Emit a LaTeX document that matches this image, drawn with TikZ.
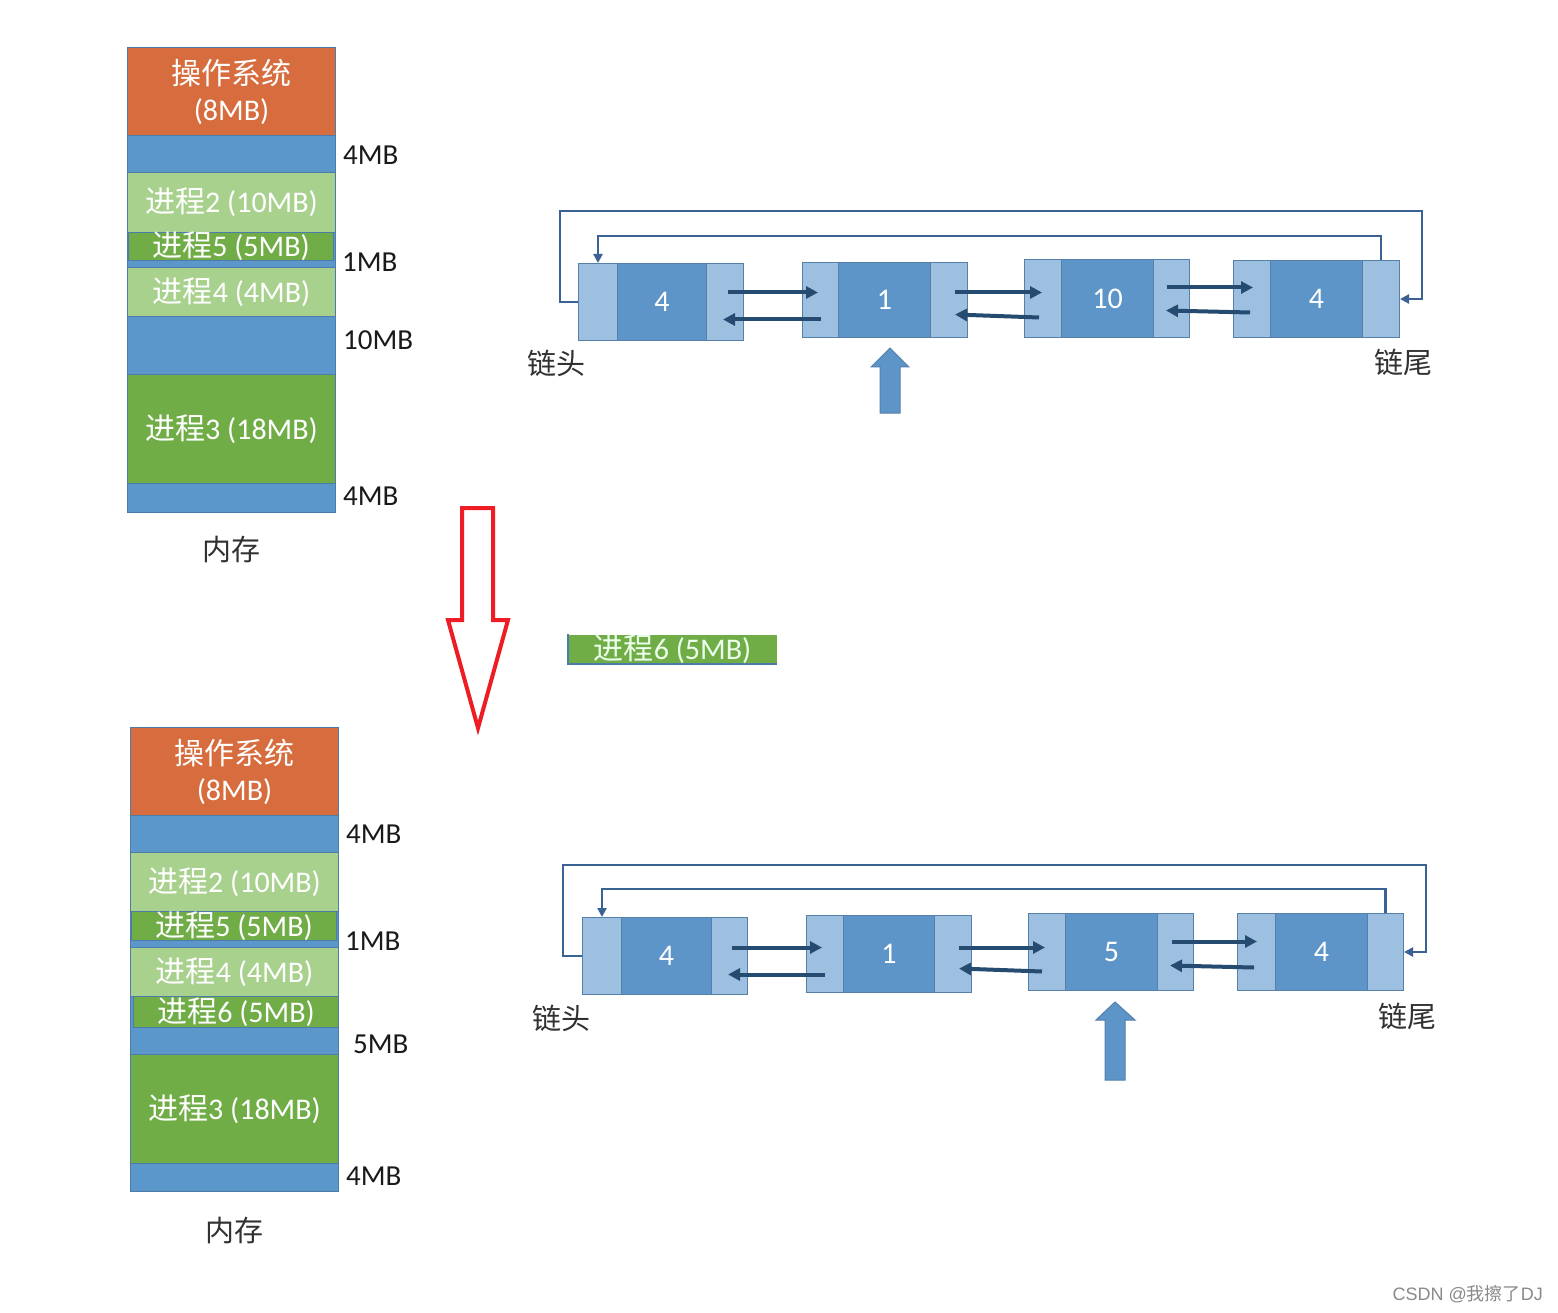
\documentclass[tikz,border=0pt]{standalone}
\usepackage{fontspec}
\setmainfont{Carlito}
\newfontfamily\cjk{Noto Sans CJK SC}
\newfontfamily\wmfont{Liberation Sans}
\usetikzlibrary{arrows.meta,calc}
\definecolor{osorange}{HTML}{D76D3E}
\definecolor{memblue}{HTML}{5B97CB}
\definecolor{lgreen}{HTML}{A9D18E}
\definecolor{dgreen}{HTML}{70AD47}
\definecolor{segline}{HTML}{4C7CAA}
\definecolor{ndark}{HTML}{5D95C8}
\definecolor{nlight}{HTML}{9DC0E1}
\definecolor{nline}{HTML}{5580AA}
\definecolor{arrnavy}{HTML}{254B70}
\definecolor{loopblue}{HTML}{3B6295}
\definecolor{redarrow}{HTML}{EE1D25}
\definecolor{lbltext}{HTML}{1A1A1A}
\definecolor{wmgray}{HTML}{8A8A8A}
\newcommand{\zh}[1]{{\cjk #1}}
\newcommand{\mseg}[6]{%
  \node[seg, fill=#2, minimum width={#5-#3}, minimum height={#6-#4}] (#1) at (#3,#4) {};}
\newcommand{\lnode}[8]{%
  \node[lpart, minimum width={#3-#2}, minimum height={#7-#6}] (#1l) at (#2,#6) {};
  \node[lpart, fill=ndark, minimum width={#4-#3}, minimum height={#7-#6}] (#1m) at (#3,#6) {};
  \node[lpart, minimum width={#5-#4}, minimum height={#7-#6}] (#1r) at (#4,#6) {};
  \node[ntext] (#1t) at (#1m.center) {#8};}
\tikzset{
  seg/.style={draw=segline, line width=1pt, inner sep=0pt, anchor=north west},
  segtext/.style={text=white, font=\fontsize{30}{36}\selectfont, align=center, inner sep=0pt},
  sizelabel/.style={anchor=west, text=lbltext, font=\fontsize{29}{34}\selectfont, inner sep=0pt},
  lpart/.style={draw=nline, fill=nlight, line width=1pt, inner sep=0pt, anchor=north west},
  ntext/.style={text=white, font=\fontsize{30}{36}\selectfont, inner sep=0pt},
  link/.style={draw=arrnavy, line width=4pt, -{Triangle[length=12pt,width=12pt]}},
  loopline/.style={draw=loopblue, line width=2.6pt, -{Triangle[length=9pt,width=9pt]}},
  endlabel/.style={text=lbltext!90, font=\fontsize{29}{34}\selectfont\cjk, inner sep=0pt},
  blockup/.style={fill=ndark, draw=nline, line width=1pt, line join=miter},
}
\begin{document}
\begin{tikzpicture}[x=1pt,y=-1pt]
\useasboundingbox[fill=white] (0,0) rectangle (1558,1313);

% ---------------- top memory ----------------
\mseg{tos}{osorange}{127}{47}{335}{135}
\mseg{tf1}{memblue}{127}{135}{335}{172}
\mseg{tp2}{lgreen}{127}{172}{335}{232}
\mseg{tf2}{memblue}{127}{232}{335}{267}
\mseg{tp5}{dgreen}{128}{232}{333}{260}
\mseg{tp4}{lgreen}{127}{267}{335}{316}
\mseg{tf3}{memblue}{127}{316}{335}{374}
\mseg{tp3}{dgreen}{127}{374}{335}{483}
\mseg{tf4}{memblue}{127}{483}{335}{512}
\node[segtext] (tos-t) at (tos.center) {\zh{操作系统}\\(8MB)};
\node[segtext] (tp2-t) at (tp2.center) {\zh{进程}2 (10MB)};
\node[segtext] (tp5-t) at (tp5.center) {\zh{进程}5 (5MB)};
\node[segtext] (tp4-t) at (tp4.center) {\zh{进程}4 (4MB)};
\node[segtext] (tp3-t) at (tp3.center) {\zh{进程}3 (18MB)};
\node[sizelabel] (tl1) at (343,155) {4MB};
\node[sizelabel] (tl2) at (342,262) {1MB};
\node[sizelabel] (tl3) at (343,340) {10MB};
\node[sizelabel] (tl4) at (343,496) {4MB};
\node[endlabel] (tmem) at (231,550) {内存};

% ---------------- bottom memory ----------------
\mseg{bos}{osorange}{130}{727}{338}{815}
\mseg{bf1}{memblue}{130}{815}{338}{852}
\mseg{bp2}{lgreen}{130}{852}{338}{911}
\mseg{bf2}{memblue}{130}{911}{338}{947}
\mseg{bp5}{dgreen}{131}{911}{336}{940}
\mseg{bp4}{lgreen}{130}{947}{338}{996}
\mseg{bf3}{memblue}{130}{996}{338}{1054}
\mseg{bp6}{dgreen}{133}{996}{338}{1027}
\mseg{bp3}{dgreen}{130}{1054}{338}{1163}
\mseg{bf4}{memblue}{130}{1163}{338}{1191}
\node[segtext] (bos-t) at (bos.center) {\zh{操作系统}\\(8MB)};
\node[segtext] (bp2-t) at (bp2.center) {\zh{进程}2 (10MB)};
\node[segtext] (bp5-t) at (bp5.center) {\zh{进程}5 (5MB)};
\node[segtext] (bp4-t) at (bp4.center) {\zh{进程}4 (4MB)};
\node[segtext] (bp6-t) at (bp6.center) {\zh{进程}6 (5MB)};
\node[segtext] (bp3-t) at (bp3.center) {\zh{进程}3 (18MB)};
\node[sizelabel] (bl1) at (346,834) {4MB};
\node[sizelabel] (bl2) at (345,941) {1MB};
\node[sizelabel] (bl3) at (353,1044) {5MB};
\node[sizelabel] (bl4) at (346,1176) {4MB};
\node[endlabel] (bmem) at (234,1230) {内存};

% ---------------- red arrow ----------------
\draw[redarrow, line width=4pt, line join=miter]
  (462,508) -- (493,508) -- (493,620) -- (508,620) -- (478,728) -- (448,620) -- (462,620) -- cycle;

% ---------------- floating process 6 ----------------
\node[seg, fill=dgreen, draw=none, minimum width=208, minimum height=29] (p6) at (568,634) {};
\draw[segline, line width=1.5pt] (p6.north west) -- (p6.south west) -- (p6.south east);
\node[segtext, text=green!8!white] (p6-t) at (p6.center) {\zh{进程}6 (5MB)};

% ---------------- top linked list ----------------
\lnode{a1}{578}{617}{706}{743}{263}{340}{4}
\lnode{a2}{802}{838}{930}{967}{262}{337}{1}
\lnode{a3}{1024}{1061}{1153}{1189}{259}{337}{10}
\lnode{a4}{1233}{1270}{1362}{1399}{260}{337}{4}
\draw[link] ($(a1r.west)+(22,-9.5)$) -- ($(a2l.west)+(16,-7.5)$);
\draw[link] ($(a2l.west)+(19,19.5)$) -- ($(a1r.west)+(17,17.5)$);
\draw[link] ($(a2r.west)+(25,-7.5)$) -- ($(a3l.west)+(18,-6)$);
\draw[link] ($(a3l.west)+(15,19)$) -- ($(a2r.west)+(25,14.5)$);
\draw[link] ($(a3r.west)+(14,-11)$) -- ($(a4l.west)+(20,-11.5)$);
\draw[link] ($(a4l.west)+(17,13.5)$) -- ($(a3r.west)+(13,12)$);
\coordinate (tcorner) at (1422,211);
\draw[loopline] (a1l.west) -- ++(-18,0) |- (tcorner) |- (a4r.east);
\draw[loopline] (a4r.north) -- ++(0,-24) -| (a1l.north);
\node[endlabel] (thead) at (556,363) {链头};
\node[endlabel] (ttail) at (1403,362) {链尾};
\draw[blockup] (880,413) -- (880,367) -- (871,367) -- (890,348) -- (909,367) -- (900,367) -- (900,413) -- cycle;

% ---------------- bottom linked list ----------------
\lnode{b1}{582}{621}{711}{747}{917}{994}{4}
\lnode{b2}{806}{843}{934}{971}{915}{992}{1}
\lnode{b3}{1028}{1065}{1157}{1193}{913}{990}{5}
\lnode{b4}{1237}{1275}{1367}{1403}{913}{990}{4}
\draw[link] ($(b1r.west)+(21,-8.5)$) -- ($(b2l.west)+(16,-6.5)$);
\draw[link] ($(b2l.west)+(19,20.5)$) -- ($(b1r.west)+(17,18.5)$);
\draw[link] ($(b2r.west)+(25,-6.5)$) -- ($(b3l.west)+(17,-4.5)$);
\draw[link] ($(b3l.west)+(14,19.5)$) -- ($(b2r.west)+(25,14.5)$);
\draw[link] ($(b3r.west)+(15,-10.5)$) -- ($(b4l.west)+(20,-10.5)$);
\draw[link] ($(b4l.west)+(17,15.5)$) -- ($(b3r.west)+(13,13.5)$);
\coordinate (bcorner) at (1426,865);
\draw[loopline] (b1l.west) -- ++(-19,0) |- (bcorner) |- (b4r.east);
\draw[loopline] (b4r.north) -- ++(0,-24) -| (b1l.north);
\node[endlabel] (bhead) at (561,1018) {链头};
\node[endlabel] (btail) at (1407,1016) {链尾};
\draw[blockup] (1105,1080) -- (1105,1020) -- (1096,1020) -- (1115,1002) -- (1135,1020) -- (1125,1020) -- (1125,1080) -- cycle;

% ---------------- watermark ----------------
\node[anchor=east, inner sep=0pt, text=wmgray, font=\fontsize{18}{20}\selectfont\wmfont] (wm) at (1543,1294) {CSDN @\zh{我擦了}DJ};
\end{tikzpicture}
\end{document}
